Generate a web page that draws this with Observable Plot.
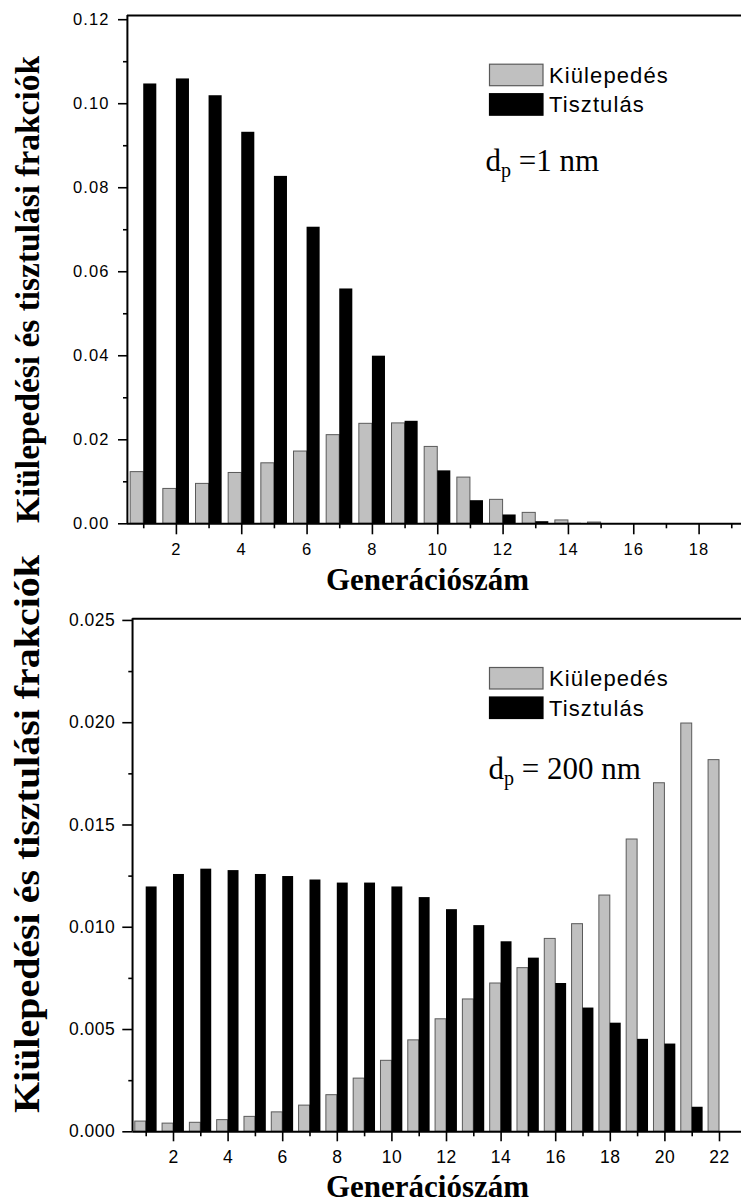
<!DOCTYPE html>
<html>
<head>
<meta charset="utf-8">
<script src="https://cdn.jsdelivr.net/npm/d3@7"></script>
<script src="https://cdn.jsdelivr.net/npm/@observablehq/plot@0.6"></script>
<style>
  html, body { margin: 0; padding: 0; background: #fff; overflow: hidden; }
  #wrap { position: relative; width: 741px; height: 1203px; overflow: hidden; }
  #wrap > svg { position: absolute; left: 0; }
</style>
</head>
<body>
<div id="wrap"></div>
<script>
// ---- data ----
const series = ["Kiülepedés", "Tisztulás"];
const xTitle = "Generációszám";
const yTitle = "Kiülepedési és tisztulási frakciók";

// panel 1: d_p = 1 nm
const gens1 = [1,2,3,4,5,6,7,8,9,10,11,12,13,14,15,16,17,18,19];
const kiul1 = [0.0123,0.0083,0.0095,0.0121,0.0144,0.0172,0.0211,0.0238,0.0239,0.0183,0.0110,0.0057,0.0026,0.0008,0.0003,0,0,0,0];
const tiszt1 = [0.1047,0.1059,0.1019,0.0932,0.0827,0.0706,0.0559,0.0399,0.0244,0.0126,0.0055,0.0021,0.0005,0.0001,0,0,0,0,0];
const xMajor1 = [2,4,6,8,10,12,14,16,18];
const xMinor1 = [1,3,5,7,9,11,13,15,17,19];
const yMajor1 = [0,0.02,0.04,0.06,0.08,0.10,0.12];
const yMinor1 = [0.01,0.03,0.05,0.07,0.09,0.11];
const note1 = ["d", "p", " =1 nm"];

// panel 2: d_p = 200 nm
const gens2 = [1,2,3,4,5,6,7,8,9,10,11,12,13,14,15,16,17,18,19,20,21,22];
const kiul2 = [0.00050,0.00040,0.00044,0.00057,0.00073,0.00095,0.00128,0.00179,0.00260,0.00347,0.00447,0.00550,0.00647,0.00725,0.00800,0.00943,0.01015,0.01155,0.01429,0.01704,0.01996,0.01817];
const tiszt2 = [0.01197,0.01258,0.01284,0.01277,0.01258,0.01248,0.01231,0.01216,0.01216,0.01197,0.01145,0.01086,0.01008,0.00929,0.00849,0.00725,0.00605,0.00531,0.00452,0.00429,0.00120,0];
const xMajor2 = [2,4,6,8,10,12,14,16,18,20,22];
const xMinor2 = [1,3,5,7,9,11,13,15,17,19,21];
const yMajor2 = [0,0.005,0.010,0.015,0.020,0.025];
const yMinor2 = [0.0025,0.0075,0.0125,0.0175,0.0225];
const note2 = ["d", "p", " = 200 nm"];

const GRAY = "#c0c0c0", GRAY_STROKE = "#5a5a5a", BLACK = "#000";
const BW = 0.4; // bar width in generation units
const SANS = "'Liberation Sans', Arial, sans-serif";
const SERIF = "'Liberation Serif', 'Times New Roman', serif";

function panel(o) {
  const rows = o.gens.map((g, i) => ({g, k: o.kiul[i], t: o.tiszt[i]}));
  const ymax = o.yDomainTop;
  const txt = {fontSize: o.fs, fontFamily: SANS};
  return Plot.plot({
    width: 741, height: o.height,
    marginLeft: o.left, marginRight: 0, marginTop: o.top, marginBottom: o.height - o.base,
    style: `font-family: ${SANS}; font-size: ${o.fs}px; letter-spacing: ${o.ls}px; overflow: hidden; background: transparent; color: #000;`,
    x: {type: "linear", domain: o.xDomain, range: o.xRange},
    y: {domain: [0, ymax], range: [o.base, o.top]},
    marks: [
      Plot.rectY(rows.filter(d => d.k > 0), {x1: d => d.g - BW, x2: d => d.g, y: "k", fill: GRAY, stroke: GRAY_STROKE, strokeWidth: 1}),
      Plot.rectY(rows.filter(d => d.t > 0), {x1: d => d.g, x2: d => d.g + BW, y: "t", fill: BLACK}),
      Plot.axisX(o.xMajor, {...txt, tickSize: o.xts, tickPadding: o.xtp, strokeWidth: 1.6, label: null, tickFormat: d3.format("d")}),
      Plot.axisX(o.xMinor, {...txt, tickSize: 5, strokeWidth: 1.6, label: null, tickFormat: () => ""}),
      Plot.axisY(o.yMajor, {...txt, tickSize: o.yts, tickPadding: o.ytp, strokeWidth: 1.6, label: null, tickFormat: d3.format(o.fmt)}),
      Plot.axisY(o.yMinor, {...txt, tickSize: 4, strokeWidth: 1.6, label: null, tickFormat: () => ""}),
      Plot.ruleY([0, ymax], {stroke: "#000", strokeWidth: 2}),
      Plot.ruleX([o.xDomain[0]], {stroke: "#000", strokeWidth: 2})
    ]
  });
}

const wrap = document.getElementById("wrap");

const p1 = panel({
  gens: gens1, kiul: kiul1, tiszt: tiszt1,
  height: 600, top: 15, base: 523.3, left: 127,
  xDomain: [0.5, 19.5], xRange: [126.9, 747.6],
  yDomainTop: 0.121, xMajor: xMajor1, xMinor: xMinor1, yMajor: yMajor1, yMinor: yMinor1, fmt: ".2f",
  fs: 16.5, ls: 1.1, xts: 11, xtp: 8, yts: 9, ytp: 9
});
p1.style.top = "0px";
wrap.appendChild(p1);

const p2 = panel({
  gens: gens2, kiul: kiul2, tiszt: tiszt2,
  height: 603, top: 18.3, base: 531.3, left: 132.3,
  xDomain: [0.5, 23.5], xRange: [132.05, 759.95],
  yDomainTop: 0.02508, xMajor: xMajor2, xMinor: xMinor2, yMajor: yMajor2, yMinor: yMinor2, fmt: ".3f",
  fs: 17.5, ls: 0.5, xts: 10, xtp: 9, yts: 10, ytp: 7.5
});
p2.style.top = "600px";
wrap.appendChild(p2);

// ---- overlay: titles, legends, annotations ----
const ov = d3.select(wrap).append("svg")
  .attr("width", 741).attr("height", 1203)
  .style("top", "0px").style("pointer-events", "none");

function yTitleAt(cy, len, fs) {
  ov.append("text")
    .attr("transform", `translate(39,${cy}) rotate(-90)`)
    .attr("text-anchor", "middle")
    .attr("font-family", SERIF)
    .attr("font-weight", "bold").attr("font-size", fs)
    .attr("textLength", len).attr("lengthAdjust", "spacingAndGlyphs")
    .text(yTitle);
}
function xTitleAt(baseline) {
  ov.append("text")
    .attr("x", 427.5).attr("y", baseline)
    .attr("text-anchor", "middle")
    .attr("font-family", SERIF)
    .attr("font-weight", "bold").attr("font-size", 31)
    .text(xTitle);
}
function legendAt(y0) {
  const sw = [[GRAY, GRAY_STROKE, 0], [BLACK, BLACK, 29.5]];
  sw.forEach(([f, s, dy], i) => {
    ov.append("rect").attr("x", 489.5).attr("y", y0 + dy).attr("width", 53.5).attr("height", 21.5)
      .attr("fill", f).attr("stroke", s).attr("stroke-width", 1.2);
    ov.append("text").attr("x", 549).attr("y", y0 + dy + 18.5)
      .attr("font-family", SANS).attr("font-size", 22)
      .attr("letter-spacing", 1.1)
      .text(series[i]);
  });
}
function noteAt(x, baseline, parts) {
  const t = ov.append("text").attr("x", x).attr("y", baseline)
    .attr("font-family", SERIF).attr("font-size", 31);
  t.append("tspan").text(parts[0]);
  t.append("tspan").attr("font-size", 20).attr("dy", 6).text(parts[1]);
  t.append("tspan").attr("dy", -6).text(parts[2]);
}

yTitleAt(289.5, 467, 33);
yTitleAt(834, 558, 36);
xTitleAt(590);
xTitleAt(1197);
legendAt(64.2);
legendAt(667.5);
noteAt(485.5, 170.7, note1);
noteAt(488.5, 779.3, note2);
</script>
</body>
</html>
